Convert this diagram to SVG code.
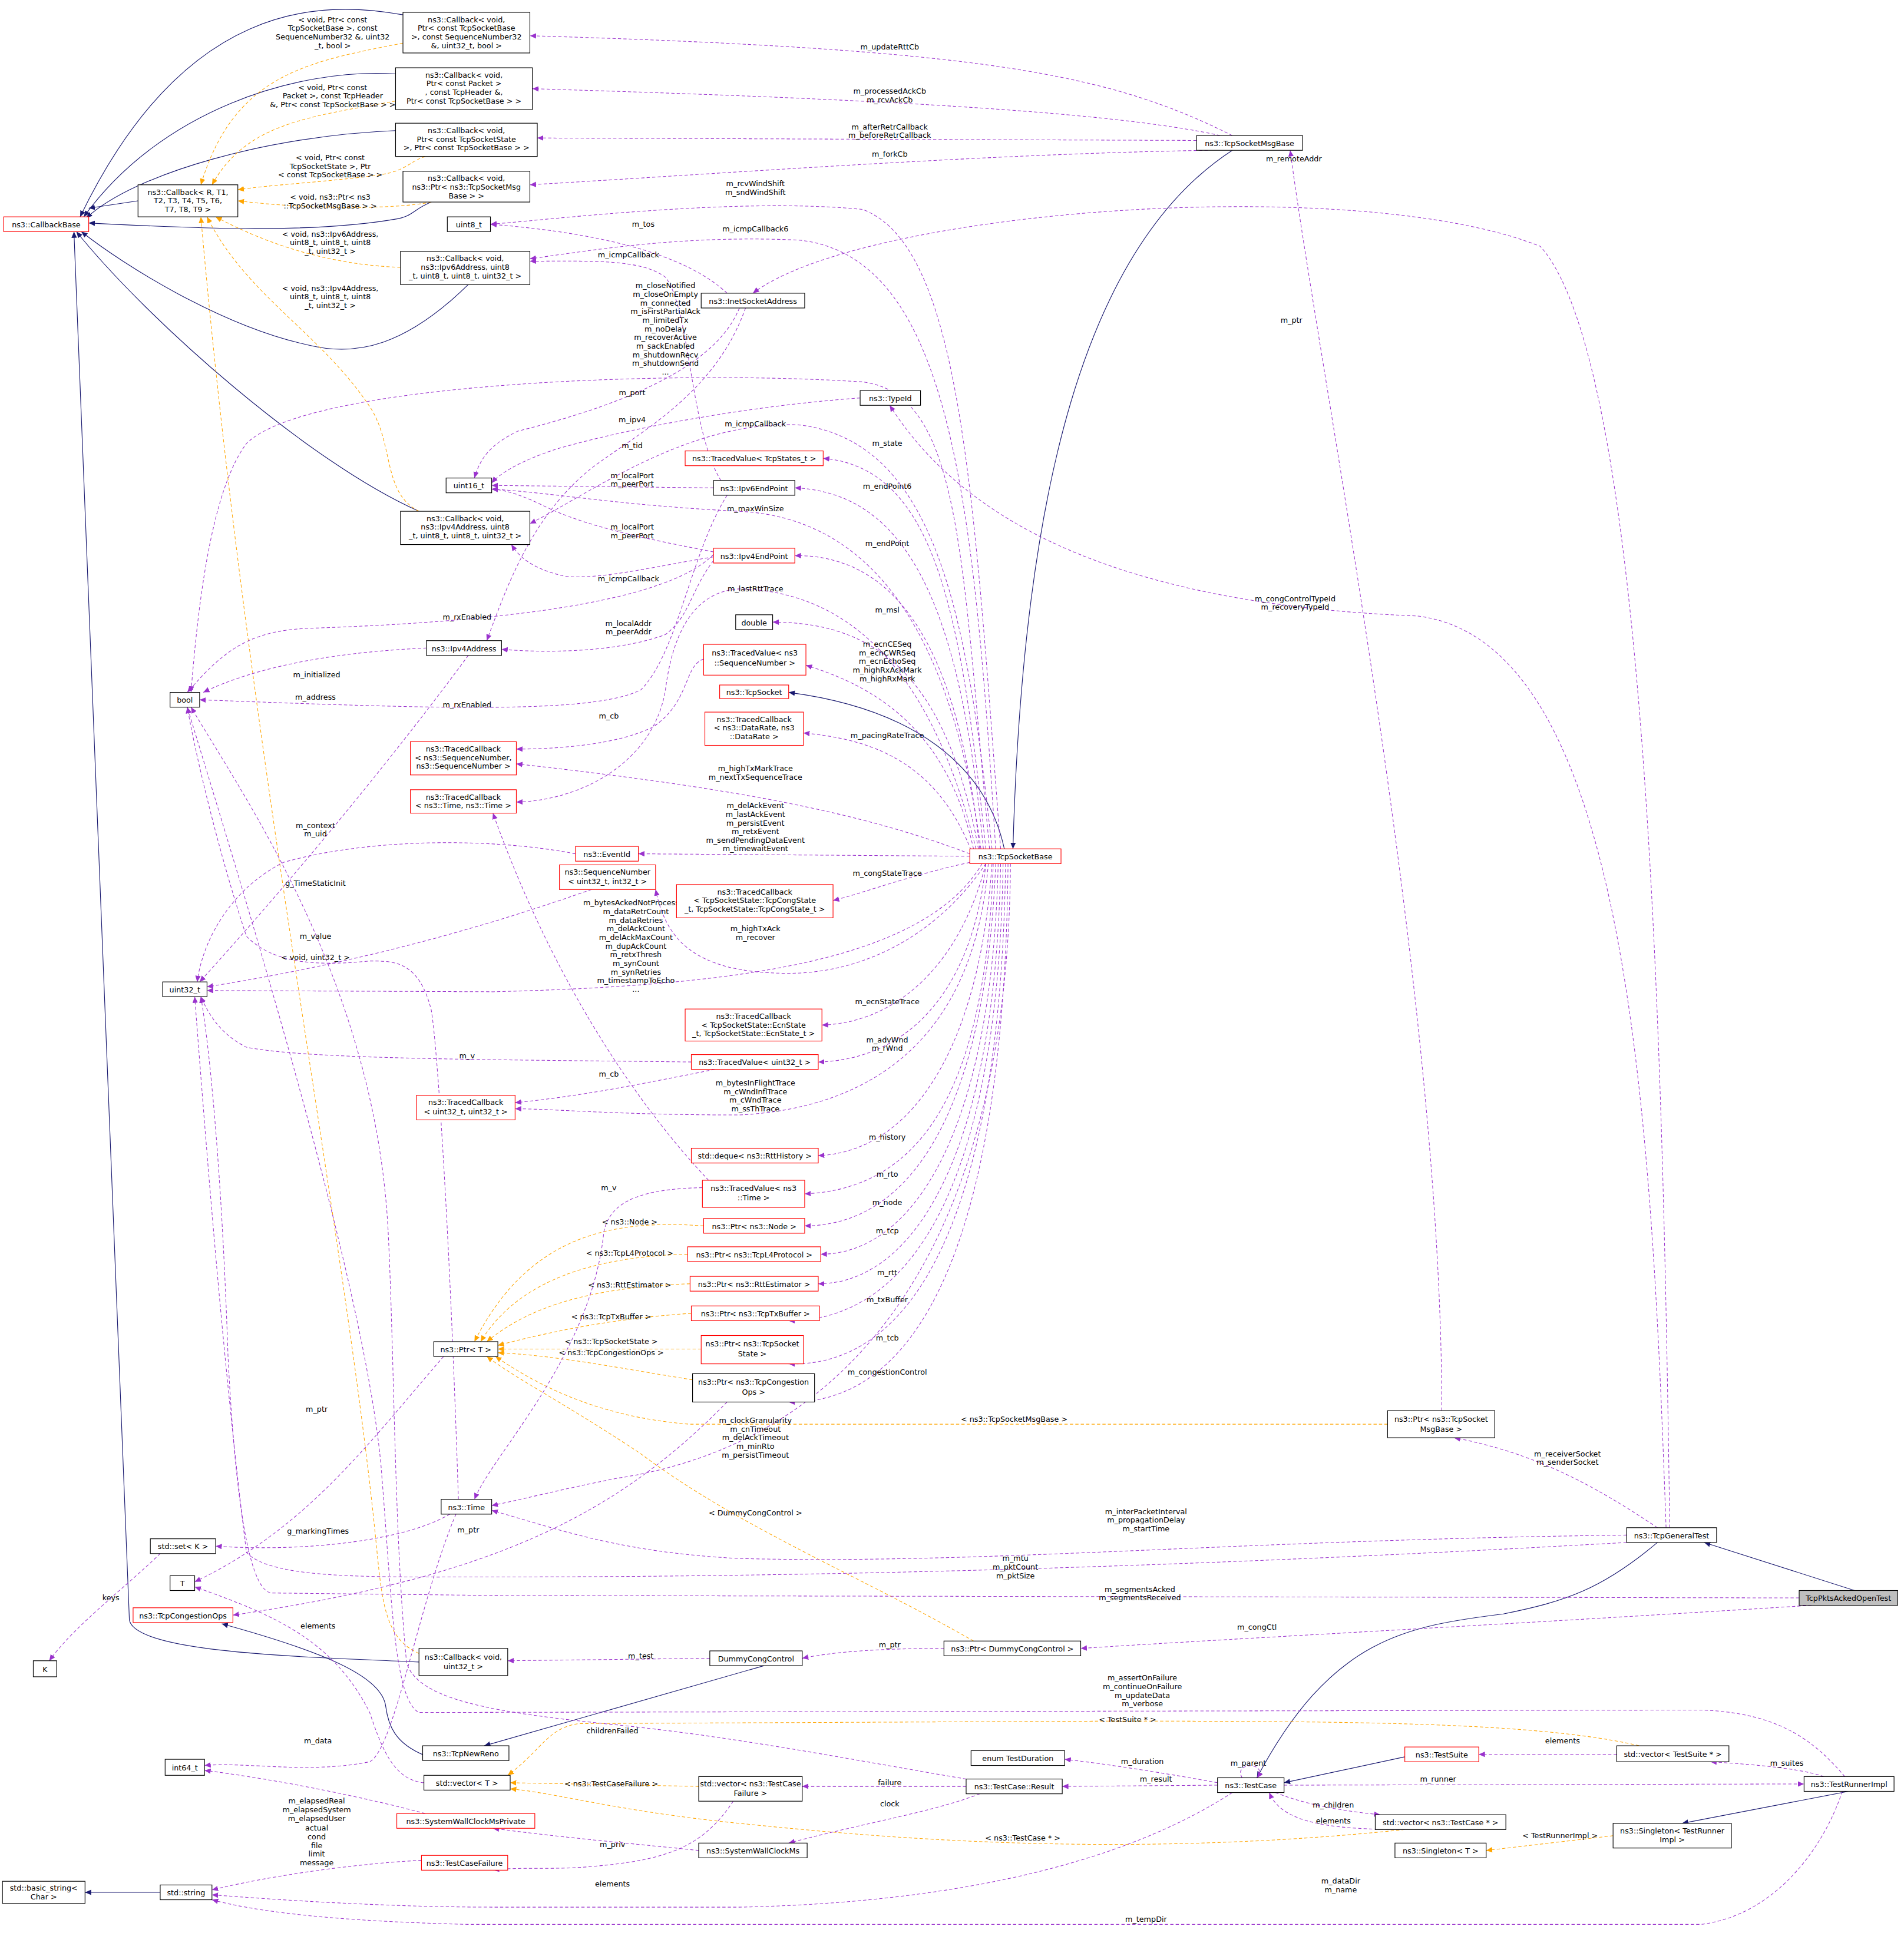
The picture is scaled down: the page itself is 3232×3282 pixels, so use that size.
<svg xmlns="http://www.w3.org/2000/svg" width="3232" height="3282" viewBox="0 0 3232 3282">
<style>
text{font-family:"DejaVu Sans","Liberation Sans",sans-serif;font-size:6.1px;text-anchor:middle;fill:#000}
.n rect{fill:#fff;stroke:#000;stroke-width:0.55}
.r rect{stroke:#f00}
.g rect{fill:#bfbfbf}
.p{fill:none;stroke:#9a32cd;stroke-width:0.5;stroke-dasharray:2.6,1.8;marker-end:url(#ap)}
.o{fill:none;stroke:orange;stroke-width:0.5;stroke-dasharray:2.6,1.8;marker-end:url(#ao)}
.b{fill:none;stroke:#191970;stroke-width:0.55;marker-end:url(#ab)}
</style>
<defs>
<marker id="ap" markerUnits="userSpaceOnUse" markerWidth="6" markerHeight="5" refX="5" refY="2.2" orient="auto"><path d="M0,0L5,2.2L0,4.4z" fill="#9a32cd"/></marker>
<marker id="ao" markerUnits="userSpaceOnUse" markerWidth="6" markerHeight="5" refX="5" refY="2.2" orient="auto"><path d="M0,0L5,2.2L0,4.4z" fill="orange"/></marker>
<marker id="ab" markerUnits="userSpaceOnUse" markerWidth="6" markerHeight="5" refX="5" refY="2.2" orient="auto"><path d="M0,0L5,2.2L0,4.4z" fill="#191970"/></marker>
</defs>
<rect width="3232" height="3282" fill="#fff"/>
<g transform="scale(2.0918)">
<g id="edges">
<path class="b" d="M327,12 C260,0 150,0 65,176"/>
<path class="b" d="M321,60 C240,55 130,90 68,176"/>
<path class="b" d="M321,106 C220,110 110,140 70,177"/>
<path class="b" d="M350,164 C335,170 335,176 320,178 C250,190 150,185 72,181"/>
<path class="b" d="M112,163 L72,169"/>
<path class="b" d="M380,231 C330,280 290,290 250,280 C180,265 100,215 66,188"/>
<path class="b" d="M340,415 C250,375 120,260 62,188"/>
<path class="b" d="M340,1349 C250,1345 110,1342 105,1315 L60,188"/>
<path class="b" d="M1000,122 C880,200 830,400 822,689"/>
<path class="b" d="M815,689 C800,620 740,575 640,562"/>
<path class="b" d="M345,1425 C320,1415 315,1400 313,1385 C310,1360 260,1340 180,1318"/>
<path class="b" d="M620,1352 L393,1417"/>
<path class="b" d="M1345,1252 C1300,1290 1270,1300 1220,1310 C1140,1320 1080,1330 1020,1443"/>
<path class="b" d="M1505,1291 L1383,1252"/>
<path class="b" d="M1140,1426 L1042,1447"/>
<path class="b" d="M1500,1454 L1365,1480"/>
<path class="b" d="M130,1536 L69,1536"/>
<path class="o" d="M327,35 C250,50 190,60 163,150"/>
<path class="o" d="M321,82 C250,95 200,100 172,150"/>
<path class="o" d="M345,127 C330,132 330,140 300,143 C260,148 220,150 193,154"/>
<path class="o" d="M350,164 C320,170 250,170 193,163"/>
<path class="o" d="M325,217 C270,215 220,200 175,176"/>
<path class="o" d="M340,415 C310,400 320,360 300,330 C260,270 200,240 168,176"/>
<path class="o" d="M340,1342 C312,1330 310,1300 305,1250 C280,1000 200,600 163,176"/>
<path class="o" d="M571,995 C500,990 430,1000 385,1089"/>
<path class="o" d="M558,1018 C480,1020 420,1040 390,1089"/>
<path class="o" d="M560,1042 C480,1045 430,1060 395,1089"/>
<path class="o" d="M561,1066 C500,1070 450,1080 404,1092"/>
<path class="o" d="M569,1095 L404,1095"/>
<path class="o" d="M562,1120 C500,1110 450,1100 404,1098"/>
<path class="o" d="M1126,1156 L560,1156 C480,1150 430,1120 402,1101"/>
<path class="o" d="M790,1332 C700,1280 600,1240 520,1180 C460,1140 420,1120 395,1101"/>
<path class="o" d="M567,1450 L414,1447"/>
<path class="o" d="M1330,1417 C1250,1398 1100,1397 900,1397 L470,1399 C445,1402 440,1420 412,1441"/>
<path class="o" d="M1140,1485 C900,1510 700,1490 600,1480 C500,1470 450,1455 414,1452"/>
<path class="o" d="M1309,1490 L1206,1502"/>
<path class="p" d="M1000,110 C900,60 800,40 430,29"/>
<path class="p" d="M990,110 C900,90 700,80 432,72"/>
<path class="p" d="M971,114 L436,112"/>
<path class="p" d="M980,122 C800,125 600,140 430,150"/>
<path class="p" d="M1170,1145 C1170,800 1070,300 1047,122"/>
<path class="p" d="M1355,1240 C1350,900 1340,300 1250,200 C1100,140 700,170 611,238"/>
<path class="p" d="M1352,1240 C1340,900 1320,520 1150,500 C900,490 780,420 722,329"/>
<path class="p" d="M1345,1240 C1300,1210 1250,1180 1180,1167"/>
<path class="p" d="M1320,1246 C1000,1250 800,1270 600,1265 C500,1260 450,1240 399,1226"/>
<path class="p" d="M1320,1252 C1000,1270 700,1280 400,1280 C300,1280 220,1282 200,1260 C180,1100 165,900 158,809"/>
<path class="p" d="M1460,1297 L400,1295 L220,1293 C200,1290 190,1200 185,1100 C180,950 170,850 163,809"/>
<path class="p" d="M1470,1303 C1200,1320 1000,1330 877,1338"/>
<path class="p" d="M766,1338 C720,1338 680,1340 651,1346"/>
<path class="p" d="M576,1346 L412,1348"/>
<path class="p" d="M1497,1442 C1470,1410 1440,1390 1380,1388 L340,1390 C320,1380 318,1300 310,1200 C300,1050 190,700 152,574"/>
<path class="p" d="M1480,1442 C1460,1435 1420,1432 1388,1430"/>
<path class="p" d="M1042,1449 L1464,1448"/>
<path class="p" d="M1495,1454 C1480,1500 1440,1555 1380,1562 L380,1562 C300,1560 220,1555 172,1542"/>
<path class="p" d="M1008,1443 C1000,1430 1030,1430 1020,1443"/>
<path class="p" d="M1035,1455 C1060,1465 1090,1470 1120,1473"/>
<path class="p" d="M1140,1485 C1080,1485 1040,1480 1030,1455"/>
<path class="p" d="M988,1449 L862,1450"/>
<path class="p" d="M988,1447 C950,1440 900,1432 864,1428"/>
<path class="p" d="M1000,1455 C900,1520 750,1545 600,1548 L400,1548 C300,1548 200,1540 172,1538"/>
<path class="p" d="M1312,1424 L1200,1424"/>
<path class="p" d="M784,1450 L651,1450"/>
<path class="p" d="M795,1456 C760,1470 700,1480 640,1496"/>
<path class="p" d="M784,1444 C700,1430 600,1410 500,1400 C400,1390 340,1380 330,1350 C320,1250 320,1100 315,1000 C305,800 200,650 155,574"/>
<path class="p" d="M595,1462 C570,1500 540,1510 480,1515 C450,1518 420,1515 400,1518"/>
<path class="p" d="M567,1502 C520,1497 460,1492 400,1484"/>
<path class="p" d="M345,1472 C300,1460 230,1445 166,1437"/>
<path class="p" d="M342,1510 C300,1512 230,1520 172,1534"/>
<path class="p" d="M344,1447 C320,1445 310,1420 300,1390 C270,1330 220,1310 158,1288"/>
<path class="p" d="M370,1229 C340,1300 320,1420 300,1430 C250,1440 200,1430 166,1433"/>
<path class="p" d="M372,1217 C365,1000 355,850 350,820 C340,780 320,780 300,780 C250,785 220,780 200,760 C180,700 160,620 152,574"/>
<path class="p" d="M365,1229 C330,1250 250,1260 175,1255"/>
<path class="p" d="M130,1261 C100,1290 60,1320 40,1348"/>
<path class="p" d="M360,1101 C300,1170 250,1240 158,1284"/>
<path class="p" d="M590,1138 C500,1230 400,1280 189,1311"/>
<path class="p" d="M570,964 C520,965 495,975 490,1000 C480,1100 400,1180 385,1217"/>
<path class="p" d="M575,958 C520,900 450,800 400,660"/>
<path class="p" d="M561,862 C400,860 250,860 200,850 C180,840 170,825 163,809"/>
<path class="p" d="M580,868 C520,880 470,890 418,895"/>
<path class="p" d="M571,535 C555,540 560,570 530,590 C500,605 450,608 419,608"/>
<path class="p" d="M467,693 C400,680 300,680 230,700 C190,720 165,760 160,797"/>
<path class="p" d="M480,722 C400,750 300,780 168,801"/>
<path class="p" d="M380,532 C330,600 250,700 162,797"/>
<path class="p" d="M346,526 C300,528 220,535 165,562"/>
<path class="p" d="M600,250 C580,300 500,330 420,350 C400,360 390,370 385,388"/>
<path class="p" d="M590,238 C560,210 500,190 398,182"/>
<path class="p" d="M605,250 C580,320 520,350 480,380 C430,420 410,480 395,520"/>
<path class="p" d="M698,323 C600,330 500,350 450,365 C420,375 405,385 399,392"/>
<path class="p" d="M579,396 L399,394"/>
<path class="p" d="M585,390 C560,350 560,250 540,225 C520,210 480,212 430,212"/>
<path class="p" d="M590,402 C560,450 550,530 520,560 C480,580 350,575 162,568"/>
<path class="p" d="M579,450 C540,490 400,505 250,510 C200,512 180,530 152,562"/>
<path class="p" d="M579,448 C540,440 480,430 440,410 C420,400 405,397 399,397"/>
<path class="p" d="M579,452 C530,460 490,470 460,468 C430,462 420,450 415,442"/>
<path class="p" d="M579,455 C560,480 560,500 540,515 C500,530 440,530 407,527"/>
<path class="p" d="M812,689 C790,400 780,200 700,170 C600,160 450,178 398,182"/>
<path class="p" d="M808,689 C790,400 770,210 650,195 C550,190 470,205 430,210"/>
<path class="p" d="M805,689 C785,500 760,360 650,345 C560,340 480,400 430,425"/>
<path class="p" d="M803,689 C780,450 780,320 700,310 C550,300 250,310 200,360 C170,400 160,500 155,562"/>
<path class="p" d="M800,689 C780,500 760,380 668,372"/>
<path class="p" d="M798,689 C780,500 740,400 645,396"/>
<path class="p" d="M796,689 C770,500 700,420 600,415 C500,410 450,400 399,397"/>
<path class="p" d="M795,689 C780,550 740,450 645,451"/>
<path class="p" d="M794,689 C770,560 720,505 627,505"/>
<path class="p" d="M792,689 C760,560 700,480 600,478 C560,480 545,520 540,560 C530,620 470,650 419,651"/>
<path class="p" d="M790,689 C770,600 720,560 654,540"/>
<path class="p" d="M788,690 C760,620 710,600 652,595"/>
<path class="p" d="M787,693 C700,660 600,640 419,620"/>
<path class="p" d="M787,695 L518,693"/>
<path class="p" d="M787,700 C740,710 700,725 676,731"/>
<path class="p" d="M800,701 C760,760 700,790 640,790 C560,790 540,760 532,722"/>
<path class="p" d="M797,701 C750,780 600,800 400,805 L168,804"/>
<path class="p" d="M800,701 C780,780 730,830 667,832"/>
<path class="p" d="M800,701 C790,800 740,860 664,862"/>
<path class="p" d="M802,701 C790,850 700,900 600,905 C500,905 450,900 418,900"/>
<path class="p" d="M805,701 C795,850 740,935 664,938"/>
<path class="p" d="M806,701 C800,880 750,965 653,969"/>
<path class="p" d="M808,701 C800,900 740,995 653,995"/>
<path class="p" d="M810,701 C805,920 740,1018 666,1018"/>
<path class="p" d="M812,701 C808,940 740,1042 664,1042"/>
<path class="p" d="M814,701 C810,960 740,1072 640,1072"/>
<path class="p" d="M816,701 C812,990 740,1110 640,1107"/>
<path class="p" d="M818,701 C815,1020 740,1140 640,1138"/>
<path class="p" d="M820,701 C818,1000 700,1170 500,1200 C450,1210 420,1218 399,1222"/>
</g>
<g id="labels">
<text x="270" y="18">&lt; void, Ptr&lt; const</text><text x="270" y="25">TcpSocketBase &gt;, const</text><text x="270" y="32">SequenceNumber32 &amp;, uint32</text><text x="270" y="39">_t, bool &gt;</text>
<text x="270" y="73">&lt; void, Ptr&lt; const</text><text x="270" y="80">Packet &gt;, const TcpHeader</text><text x="270" y="87">&amp;, Ptr&lt; const TcpSocketBase &gt; &gt;</text>
<text x="268" y="130">&lt; void, Ptr&lt; const</text><text x="268" y="137">TcpSocketState &gt;, Ptr</text><text x="268" y="144">&lt; const TcpSocketBase &gt; &gt;</text>
<text x="268" y="162">&lt; void, ns3::Ptr&lt; ns3</text><text x="268" y="169">::TcpSocketMsgBase &gt; &gt;</text>
<text x="268" y="192">&lt; void, ns3::Ipv6Address,</text><text x="268" y="199">uint8_t, uint8_t, uint8</text><text x="268" y="206">_t, uint32_t &gt;</text>
<text x="268" y="236">&lt; void, ns3::Ipv4Address,</text><text x="268" y="243">uint8_t, uint8_t, uint8</text><text x="268" y="250">_t, uint32_t &gt;</text>
<text x="256" y="779">&lt; void, uint32_t &gt;</text>
<text x="511" y="994">&lt; ns3::Node &gt;</text>
<text x="511" y="1019">&lt; ns3::TcpL4Protocol &gt;</text>
<text x="511" y="1045">&lt; ns3::RttEstimator &gt;</text>
<text x="496" y="1071">&lt; ns3::TcpTxBuffer &gt;</text>
<text x="496" y="1091">&lt; ns3::TcpSocketState &gt;</text>
<text x="496" y="1100">&lt; ns3::TcpCongestionOps &gt;</text>
<text x="823" y="1154">&lt; ns3::TcpSocketMsgBase &gt;</text>
<text x="613" y="1230">&lt; DummyCongControl &gt;</text>
<text x="496" y="1450">&lt; ns3::TestCaseFailure &gt;</text>
<text x="915" y="1398">&lt; TestSuite * &gt;</text>
<text x="830" y="1494">&lt; ns3::TestCase * &gt;</text>
<text x="1266" y="1492">&lt; TestRunnerImpl &gt;</text>
<text x="722" y="40">m_updateRttCb</text>
<text x="722" y="76">m_processedAckCb</text><text x="722" y="83">m_rcvAckCb</text>
<text x="722" y="105">m_afterRetrCallback</text><text x="722" y="112">m_beforeRetrCallback</text>
<text x="722" y="127">m_forkCb</text>
<text x="1048" y="262">m_ptr</text>
<text x="1050" y="131">m_remoteAddr</text>
<text x="1051" y="488">m_congControlTypeId</text><text x="1051" y="495">m_recoveryTypeId</text>
<text x="1272" y="1182">m_receiverSocket</text><text x="1272" y="1189">m_senderSocket</text>
<text x="930" y="1229">m_interPacketInterval</text><text x="930" y="1236">m_propagationDelay</text><text x="930" y="1243">m_startTime</text>
<text x="824" y="1267">m_mtu</text><text x="824" y="1274">m_pktCount</text><text x="824" y="1281">m_pktSize</text>
<text x="925" y="1292">m_segmentsAcked</text><text x="925" y="1299">m_segmentsReceived</text>
<text x="1020" y="1323">m_congCtl</text>
<text x="722" y="1337">m_ptr</text>
<text x="520" y="1346">m_test</text>
<text x="927" y="1364">m_assertOnFailure</text><text x="927" y="1371">m_continueOnFailure</text><text x="927" y="1378">m_updateData</text><text x="927" y="1385">m_verbose</text>
<text x="1450" y="1433">m_suites</text>
<text x="1167" y="1446">m_runner</text>
<text x="930" y="1560">m_tempDir</text>
<text x="1013" y="1433">m_parent</text>
<text x="1082" y="1467">m_children</text>
<text x="1082" y="1480">elements</text>
<text x="938" y="1446">m_result</text>
<text x="927" y="1432">m_duration</text>
<text x="1088" y="1529">m_dataDir</text><text x="1088" y="1536">m_name</text>
<text x="1268" y="1415">elements</text>
<text x="722" y="1449">failure</text>
<text x="722" y="1466">clock</text>
<text x="497" y="1407">childrenFailed</text>
<text x="497" y="1531">elements</text>
<text x="497" y="1499">m_priv</text>
<text x="257" y="1464">m_elapsedReal</text><text x="257" y="1471">m_elapsedSystem</text><text x="257" y="1478">m_elapsedUser</text>
<text x="257" y="1486">actual</text><text x="257" y="1493">cond</text><text x="257" y="1500">file</text><text x="257" y="1507">limit</text><text x="257" y="1514">message</text>
<text x="258" y="1322">elements</text>
<text x="258" y="1415">m_data</text>
<text x="256" y="719">g_TimeStaticInit</text>
<text x="258" y="1245">g_markingTimes</text>
<text x="90" y="1299">keys</text>
<text x="257" y="1146">m_ptr</text>
<text x="380" y="1244">m_ptr</text>
<text x="494" y="966">m_v</text>
<text x="379" y="859">m_v</text>
<text x="494" y="874">m_cb</text>
<text x="494" y="583">m_cb</text>
<text x="256" y="672">m_context</text><text x="256" y="679">m_uid</text>
<text x="256" y="762">m_value</text>
<text x="256" y="568">m_address</text>
<text x="257" y="550">m_initialized</text>
<text x="513" y="321">m_port</text>
<text x="522" y="184">m_tos</text>
<text x="513" y="343">m_ipv4</text>
<text x="513" y="364">m_tid</text>
<text x="513" y="388">m_localPort</text><text x="513" y="395">m_peerPort</text>
<text x="510" y="209">m_icmpCallback</text>
<text x="379" y="574">m_rxEnabled</text>
<text x="379" y="503">m_rxEnabled</text>
<text x="513" y="430">m_localPort</text><text x="513" y="437">m_peerPort</text>
<text x="510" y="472">m_icmpCallback</text>
<text x="510" y="508">m_localAddr</text><text x="510" y="515">m_peerAddr</text>
<text x="613" y="151">m_rcvWindShift</text><text x="613" y="158">m_sndWindShift</text>
<text x="613" y="188">m_icmpCallback6</text>
<text x="613" y="346">m_icmpCallback</text>
<text x="540" y="234">m_closeNotified</text><text x="540" y="241">m_closeOnEmpty</text><text x="540" y="248">m_connected</text><text x="540" y="255">m_isFirstPartialAck</text><text x="540" y="262">m_limitedTx</text><text x="540" y="269">m_noDelay</text><text x="540" y="276">m_recoverActive</text><text x="540" y="283">m_sackEnabled</text><text x="540" y="290">m_shutdownRecv</text><text x="540" y="297">m_shutdownSend</text><text x="540" y="304">...</text>
<text x="720" y="362">m_state</text>
<text x="720" y="397">m_endPoint6</text>
<text x="613" y="415">m_maxWinSize</text>
<text x="720" y="443">m_endPoint</text>
<text x="613" y="480">m_lastRttTrace</text>
<text x="720" y="497">m_msl</text>
<text x="720" y="525">m_ecnCESeq</text><text x="720" y="532">m_ecnCWRSeq</text><text x="720" y="539">m_ecnEchoSeq</text><text x="720" y="546">m_highRxAckMark</text><text x="720" y="553">m_highRxMark</text>
<text x="720" y="599">m_pacingRateTrace</text>
<text x="613" y="626">m_highTxMarkTrace</text><text x="613" y="633">m_nextTxSequenceTrace</text>
<text x="613" y="656">m_delAckEvent</text><text x="613" y="663">m_lastAckEvent</text><text x="613" y="670">m_persistEvent</text><text x="613" y="677">m_retxEvent</text><text x="613" y="684">m_sendPendingDataEvent</text><text x="613" y="691">m_timewaitEvent</text>
<text x="720" y="711">m_congStateTrace</text>
<text x="613" y="756">m_highTxAck</text><text x="613" y="763">m_recover</text>
<text x="516" y="735">m_bytesAckedNotProcessed</text><text x="516" y="742">m_dataRetrCount</text><text x="516" y="749">m_dataRetries</text><text x="516" y="756">m_delAckCount</text><text x="516" y="763">m_delAckMaxCount</text><text x="516" y="770">m_dupAckCount</text><text x="516" y="777">m_retxThresh</text><text x="516" y="784">m_synCount</text><text x="516" y="791">m_synRetries</text><text x="516" y="798">m_timestampToEcho</text><text x="516" y="805">...</text>
<text x="720" y="815">m_ecnStateTrace</text>
<text x="720" y="846">m_advWnd</text><text x="720" y="853">m_rWnd</text>
<text x="613" y="881">m_bytesInFlightTrace</text><text x="613" y="888">m_cWndInflTrace</text><text x="613" y="895">m_cWndTrace</text><text x="613" y="902">m_ssThTrace</text>
<text x="720" y="925">m_history</text>
<text x="720" y="955">m_rto</text>
<text x="720" y="978">m_node</text>
<text x="720" y="1001">m_tcp</text>
<text x="720" y="1035">m_rtt</text>
<text x="720" y="1057">m_txBuffer</text>
<text x="720" y="1088">m_tcb</text>
<text x="720" y="1116">m_congestionControl</text>
<text x="613" y="1155">m_clockGranularity</text><text x="613" y="1162">m_cnTimeout</text><text x="613" y="1169">m_delAckTimeout</text><text x="613" y="1176">m_minRto</text><text x="613" y="1183">m_persistTimeout</text>
</g>
<g id="cbbase" class="n r"><rect x="3" y="176" width="69" height="12"/><text x="37.5" y="184.5">ns3::CallbackBase</text></g>
<g id="cbR" class="n"><rect x="112" y="150" width="81" height="26"/><text x="152.5" y="158">ns3::Callback&lt; R, T1,</text><text x="152.5" y="165">T2, T3, T4, T5, T6,</text><text x="152.5" y="172">T7, T8, T9 &gt;</text></g>
<g id="cb1" class="n"><rect x="327" y="10" width="103" height="33"/><text x="378.5" y="18">ns3::Callback&lt; void,</text><text x="378.5" y="25">Ptr&lt; const TcpSocketBase</text><text x="378.5" y="32">&gt;, const SequenceNumber32</text><text x="378.5" y="39">&amp;, uint32_t, bool &gt;</text></g>
<g id="cb2" class="n"><rect x="321" y="55" width="111" height="34"/><text x="376.5" y="63">ns3::Callback&lt; void,</text><text x="376.5" y="70">Ptr&lt; const Packet &gt;</text><text x="376.5" y="77">, const TcpHeader &amp;,</text><text x="376.5" y="84">Ptr&lt; const TcpSocketBase &gt; &gt;</text></g>
<g id="cb3" class="n"><rect x="321" y="100" width="115" height="27"/><text x="378.5" y="108">ns3::Callback&lt; void,</text><text x="378.5" y="115">Ptr&lt; const TcpSocketState</text><text x="378.5" y="122">&gt;, Ptr&lt; const TcpSocketBase &gt; &gt;</text></g>
<g id="cb4" class="n"><rect x="327" y="139" width="103" height="25"/><text x="378.5" y="147">ns3::Callback&lt; void,</text><text x="378.5" y="154">ns3::Ptr&lt; ns3::TcpSocketMsg</text><text x="378.5" y="161">Base &gt; &gt;</text></g>
<g id="uint8" class="n"><rect x="363" y="176" width="35" height="12"/><text x="380.5" y="184.5">uint8_t</text></g>
<g id="cb6" class="n"><rect x="325" y="204" width="105" height="27"/><text x="377.5" y="212">ns3::Callback&lt; void,</text><text x="377.5" y="219">ns3::Ipv6Address, uint8</text><text x="377.5" y="226">_t, uint8_t, uint8_t, uint32_t &gt;</text></g>
<g id="inet" class="n"><rect x="569" y="238" width="84" height="12"/><text x="611" y="246.5">ns3::InetSocketAddress</text></g>
<g id="typeid" class="n"><rect x="698" y="317" width="49" height="12"/><text x="722.5" y="325.5">ns3::TypeId</text></g>
<g id="uint16" class="n"><rect x="362" y="388" width="37" height="12"/><text x="380.5" y="396.5">uint16_t</text></g>
<g id="tvstate" class="n r"><rect x="556" y="366" width="112" height="12"/><text x="612" y="374.5">ns3::TracedValue&lt; TcpStates_t &gt;</text></g>
<g id="ep6" class="n"><rect x="579" y="390" width="66" height="12"/><text x="612" y="398.5">ns3::Ipv6EndPoint</text></g>
<g id="cb4a" class="n"><rect x="325" y="415" width="105" height="27"/><text x="377.5" y="423">ns3::Callback&lt; void,</text><text x="377.5" y="430">ns3::Ipv4Address, uint8</text><text x="377.5" y="437">_t, uint8_t, uint8_t, uint32_t &gt;</text></g>
<g id="ep4" class="n r"><rect x="579" y="445" width="66" height="12"/><text x="612" y="453.5">ns3::Ipv4EndPoint</text></g>
<g id="double" class="n"><rect x="597" y="499" width="30" height="12"/><text x="612" y="507.5">double</text></g>
<g id="ipv4addr" class="n"><rect x="346" y="520" width="61" height="12"/><text x="376.5" y="528.5">ns3::Ipv4Address</text></g>
<g id="bool" class="n"><rect x="138" y="562" width="24" height="12"/><text x="150" y="570.5">bool</text></g>
<g id="tvseq" class="n r"><rect x="571" y="523" width="83" height="25"/><text x="612.5" y="532">ns3::TracedValue&lt; ns3</text><text x="612.5" y="540">::SequenceNumber &gt;</text></g>
<g id="tcpsock" class="n r"><rect x="584" y="556" width="56" height="11"/><text x="612" y="564">ns3::TcpSocket</text></g>
<g id="tcdr" class="n r"><rect x="572" y="578" width="80" height="27"/><text x="612" y="586">ns3::TracedCallback</text><text x="612" y="593">&lt; ns3::DataRate, ns3</text><text x="612" y="600">::DataRate &gt;</text></g>
<g id="tcseq" class="n r"><rect x="333" y="602" width="86" height="27"/><text x="376" y="610">ns3::TracedCallback</text><text x="376" y="617">&lt; ns3::SequenceNumber,</text><text x="376" y="624">ns3::SequenceNumber &gt;</text></g>
<g id="tctime" class="n r"><rect x="333" y="641" width="86" height="19"/><text x="376" y="649">ns3::TracedCallback</text><text x="376" y="656">&lt; ns3::Time, ns3::Time &gt;</text></g>
<g id="eventid" class="n r"><rect x="467" y="687" width="51" height="12"/><text x="492.5" y="695.5">ns3::EventId</text></g>
<g id="seqnum" class="n r"><rect x="454" y="702" width="78" height="20"/><text x="493" y="710">ns3::SequenceNumber</text><text x="493" y="717.5">&lt; uint32_t, int32_t &gt;</text></g>
<g id="tccong" class="n r"><rect x="549" y="718" width="127" height="27"/><text x="612.5" y="726">ns3::TracedCallback</text><text x="612.5" y="733">&lt; TcpSocketState::TcpCongState</text><text x="612.5" y="740">_t, TcpSocketState::TcpCongState_t &gt;</text></g>
<g id="tsb" class="n r"><rect x="787" y="689" width="74" height="12"/><text x="824" y="697.5">ns3::TcpSocketBase</text></g>
<g id="uint32" class="n"><rect x="132" y="797" width="36" height="12"/><text x="150" y="805.5">uint32_t</text></g>
<g id="tcecn" class="n r"><rect x="556" y="819" width="111" height="26"/><text x="611.5" y="827">ns3::TracedCallback</text><text x="611.5" y="834">&lt; TcpSocketState::EcnState</text><text x="611.5" y="841">_t, TcpSocketState::EcnState_t &gt;</text></g>
<g id="tvu32" class="n r"><rect x="561" y="856" width="103" height="12"/><text x="612.5" y="864.5">ns3::TracedValue&lt; uint32_t &gt;</text></g>
<g id="tcu32" class="n r"><rect x="338" y="889" width="80" height="20"/><text x="378" y="897">ns3::TracedCallback</text><text x="378" y="904.5">&lt; uint32_t, uint32_t &gt;</text></g>
<g id="deque" class="n r"><rect x="561" y="932" width="103" height="12"/><text x="612.5" y="940.5">std::deque&lt; ns3::RttHistory &gt;</text></g>
<g id="tvtime" class="n r"><rect x="570" y="958" width="83" height="22"/><text x="611.5" y="966.5">ns3::TracedValue&lt; ns3</text><text x="611.5" y="974.5">::Time &gt;</text></g>
<g id="pnode" class="n r"><rect x="571" y="989" width="82" height="12"/><text x="612" y="997.5">ns3::Ptr&lt; ns3::Node &gt;</text></g>
<g id="pl4" class="n r"><rect x="558" y="1012" width="108" height="12"/><text x="612" y="1020.5">ns3::Ptr&lt; ns3::TcpL4Protocol &gt;</text></g>
<g id="prtt" class="n r"><rect x="560" y="1036" width="104" height="12"/><text x="612" y="1044.5">ns3::Ptr&lt; ns3::RttEstimator &gt;</text></g>
<g id="ptx" class="n r"><rect x="561" y="1060" width="104" height="12"/><text x="613" y="1068.5">ns3::Ptr&lt; ns3::TcpTxBuffer &gt;</text></g>
<g id="ptcb" class="n r"><rect x="569" y="1084" width="83" height="23"/><text x="610.5" y="1093">ns3::Ptr&lt; ns3::TcpSocket</text><text x="610.5" y="1101">State &gt;</text></g>
<g id="pcong" class="n"><rect x="562" y="1115" width="99" height="23"/><text x="611.5" y="1124">ns3::Ptr&lt; ns3::TcpCongestion</text><text x="611.5" y="1132">Ops &gt;</text></g>
<g id="ptrT" class="n"><rect x="352" y="1089" width="52" height="12"/><text x="378" y="1097.5">ns3::Ptr&lt; T &gt;</text></g>
<g id="pmsg" class="n"><rect x="1126" y="1145" width="87" height="22"/><text x="1169.5" y="1154">ns3::Ptr&lt; ns3::TcpSocket</text><text x="1169.5" y="1162">MsgBase &gt;</text></g>
<g id="msgbase" class="n"><rect x="971" y="110" width="86" height="12"/><text x="1014" y="118.5">ns3::TcpSocketMsgBase</text></g>
<g id="gentest" class="n"><rect x="1320" y="1240" width="73" height="12"/><text x="1356.5" y="1248.5">ns3::TcpGeneralTest</text></g>
<g id="pkts" class="n g"><rect x="1460" y="1291" width="80" height="12"/><text x="1500" y="1299.5">TcpPktsAckedOpenTest</text></g>
<g id="time" class="n"><rect x="358" y="1217" width="41" height="12"/><text x="378.5" y="1225.5">ns3::Time</text></g>
<g id="setK" class="n"><rect x="122" y="1249" width="53" height="12"/><text x="148.5" y="1257.5">std::set&lt; K &gt;</text></g>
<g id="T" class="n"><rect x="138" y="1279" width="20" height="12"/><text x="148" y="1287.5">T</text></g>
<g id="congops" class="n r"><rect x="108" y="1305" width="81" height="12"/><text x="148.5" y="1313.5">ns3::TcpCongestionOps</text></g>
<g id="K" class="n"><rect x="27" y="1348" width="19" height="13"/><text x="36.5" y="1357">K</text></g>
<g id="cbu32" class="n"><rect x="340" y="1338" width="72" height="22"/><text x="376" y="1347">ns3::Callback&lt; void,</text><text x="376" y="1355">uint32_t &gt;</text></g>
<g id="dummy" class="n"><rect x="576" y="1340" width="75" height="12"/><text x="613.5" y="1348.5">DummyCongControl</text></g>
<g id="pdummy" class="n"><rect x="766" y="1332" width="111" height="12"/><text x="821.5" y="1340.5">ns3::Ptr&lt; DummyCongControl &gt;</text></g>
<g id="newreno" class="n"><rect x="343" y="1417" width="70" height="12"/><text x="378" y="1425.5">ns3::TcpNewReno</text></g>
<g id="int64" class="n"><rect x="134" y="1428" width="32" height="13"/><text x="150" y="1437">int64_t</text></g>
<g id="vecT" class="n"><rect x="344" y="1441" width="70" height="12"/><text x="379" y="1449.5">std::vector&lt; T &gt;</text></g>
<g id="vecfail" class="n"><rect x="567" y="1442" width="84" height="20"/><text x="609" y="1450">std::vector&lt; ns3::TestCase</text><text x="609" y="1457.5">Failure &gt;</text></g>
<g id="swcp" class="n r"><rect x="322" y="1472" width="112" height="12"/><text x="378" y="1480.5">ns3::SystemWallClockMsPrivate</text></g>
<g id="tcf" class="n r"><rect x="342" y="1506" width="70" height="12"/><text x="377" y="1514.5">ns3::TestCaseFailure</text></g>
<g id="swc" class="n"><rect x="567" y="1496" width="88" height="12"/><text x="611" y="1504.5">ns3::SystemWallClockMs</text></g>
<g id="bstr" class="n"><rect x="2" y="1527" width="67" height="18"/><text x="35.5" y="1534.5">std::basic_string&lt;</text><text x="35.5" y="1541.5">Char &gt;</text></g>
<g id="str" class="n"><rect x="130" y="1530" width="42" height="12"/><text x="151" y="1538.5">std::string</text></g>
<g id="tdur" class="n"><rect x="788" y="1421" width="76" height="12"/><text x="826" y="1429.5">enum TestDuration</text></g>
<g id="result" class="n"><rect x="784" y="1444" width="78" height="12"/><text x="823" y="1452.5">ns3::TestCase::Result</text></g>
<g id="testcase" class="n"><rect x="988" y="1443" width="54" height="12"/><text x="1015" y="1451.5">ns3::TestCase</text></g>
<g id="suite" class="n r"><rect x="1140" y="1418" width="60" height="12"/><text x="1170" y="1426.5">ns3::TestSuite</text></g>
<g id="vecsuite" class="n"><rect x="1312" y="1417" width="91" height="13"/><text x="1357.5" y="1426">std::vector&lt; TestSuite * &gt;</text></g>
<g id="veccase" class="n"><rect x="1116" y="1473" width="106" height="12"/><text x="1169" y="1481.5">std::vector&lt; ns3::TestCase * &gt;</text></g>
<g id="runner" class="n"><rect x="1464" y="1442" width="73" height="12"/><text x="1500.5" y="1450.5">ns3::TestRunnerImpl</text></g>
<g id="singR" class="n"><rect x="1309" y="1480" width="96" height="20"/><text x="1357" y="1488">ns3::Singleton&lt; TestRunner</text><text x="1357" y="1495.5">Impl &gt;</text></g>
<g id="singT" class="n"><rect x="1132" y="1496" width="74" height="12"/><text x="1169" y="1504.5">ns3::Singleton&lt; T &gt;</text></g>
</g>
</svg>
